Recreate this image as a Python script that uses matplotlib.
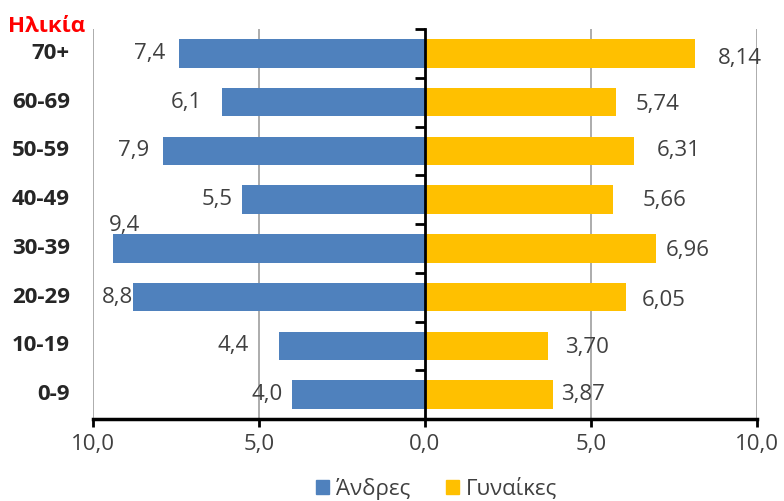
import numpy as np
import matplotlib
matplotlib.use("Agg")
import matplotlib.pyplot as plt
from matplotlib.patches import Patch
from matplotlib.transforms import offset_copy

plt.rcParams['font.family'] = ['Open Sans', 'DejaVu Sans']

age_groups = ['0-9', '10-19', '20-29', '30-39', '40-49', '50-59', '60-69', '70+']
men = [4.0, 4.4, 8.8, 9.4, 5.5, 7.9, 6.1, 7.4]
women = [3.87, 3.70, 6.05, 6.96, 5.66, 6.31, 5.74, 8.14]
men_labels = ['4,0', '4,4', '8,8', '9,4', '5,5', '7,9', '6,1', '7,4']
women_labels = ['3,87', '3,70', '6,05', '6,96', '5,66', '6,31', '5,74', '8,14']
xticks = [-10, -5, 0, 5, 10]
xtick_labels = ['10,0', '5,0', '0,0', '5,0', '10,0']
series_names = ['Άνδρες', 'Γυναίκες']

# label gaps (pixels) from bar end, style only
men_dx = [9, 30, 0, -4, 10, 13, 20, 14]
men_dy = [0, 0, 0, 23, 0, 0, 0, 0]
women_dx = [8, 17, 16, 10, 30, 22, 20, 23]
women_dy = [0, -2, -3, -2, -1, 0, -2, -5]

blue = '#4F81BD'
gold = '#FFC000'
fs = 16

fig = plt.figure(figsize=(7.84, 5.01), dpi=100)
ax = fig.add_axes([93/784, 82/501, 664/784, 390/501])

y = np.arange(len(age_groups))
ax.barh(y, [-m for m in men], height=0.58, color=blue, zorder=3)
ax.barh(y, women, height=0.58, color=gold, zorder=3)

ax.set_xlim(-10, 10)
ax.set_ylim(-0.5, len(age_groups) - 0.5)

# grid
for xv in [-10, -5, 5, 10]:
    ax.axvline(xv, color='#A6A6A6', lw=1.3, zorder=1)

for s in ['top', 'right']:
    ax.spines[s].set_visible(False)
ax.spines['left'].set_position(('data', 0))
ax.spines['left'].set_linewidth(2)
ax.spines['left'].set_zorder(5)
ax.spines['bottom'].set_linewidth(2.5)

ax.set_yticks(np.arange(-0.5, len(age_groups), 1))
ax.set_yticklabels([])
ax.tick_params(axis='y', direction='out', length=7, width=2, color='black')
ax.set_xticks(xticks)
ax.set_xticklabels(xtick_labels, fontsize=fs, color='#404040')
ax.tick_params(axis='x', direction='out', length=6, width=2, pad=5)

ytr = ax.get_yaxis_transform()
for i, g in enumerate(age_groups):
    ax.text(-23/664, i, g, transform=ytr, ha='right', va='center',
            fontsize=fs, fontweight='bold', color='#262626')

for i in range(len(age_groups)):
    if men_dy[i] > 0:
        tr = offset_copy(ax.transData, fig=fig, x=-4*0.72, y=men_dy[i]*0.72, units='points')
        ax.text(-men[i], i, men_labels[i], transform=tr, ha='left', va='center',
                fontsize=fs, color='#404040')
    else:
        tr = offset_copy(ax.transData, fig=fig, x=-men_dx[i]*0.72, y=0, units='points')
        ax.text(-men[i], i, men_labels[i], transform=tr, ha='right', va='center',
                fontsize=fs, color='#404040')
    tr2 = offset_copy(ax.transData, fig=fig, x=women_dx[i]*0.72, y=women_dy[i]*0.72, units='points')
    ax.text(women[i], i, women_labels[i], transform=tr2, ha='left', va='center',
            fontsize=fs, color='#404040')

fig.text(47/784, 1 - 27/501, 'Ηλικία', color='#FF0000', fontsize=fs, fontweight='bold',
         ha='center', va='center')

handles = [Patch(color=blue), Patch(color=gold)]
fig.legend(handles, series_names, loc='center', bbox_to_anchor=(0.557, 0.024),
           ncol=2, frameon=False, fontsize=fs, handlelength=0.6, handleheight=0.6,
           handletextpad=0.3, columnspacing=1.6, labelcolor='#404040')

fig.savefig('out.png', dpi=100)
